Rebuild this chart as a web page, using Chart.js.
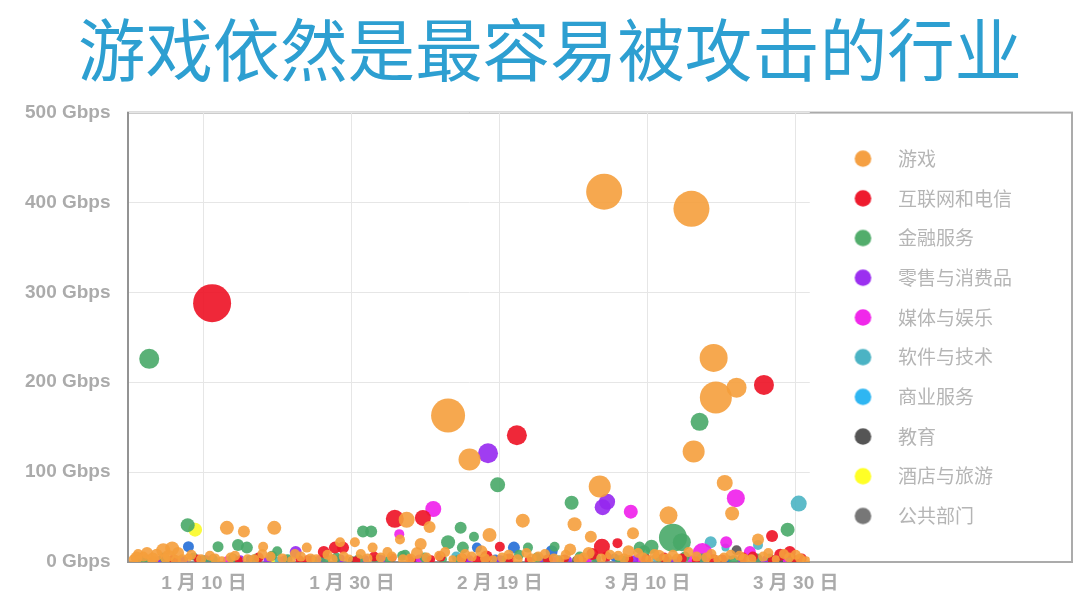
<!DOCTYPE html>
<html>
<head>
<meta charset="utf-8">
<script src="https://cdn.jsdelivr.net/npm/chart.js@4/dist/chart.umd.min.js"></script>
<style>
  html, body { margin: 0; padding: 0; background: #fff; }
  #wrap { width: 1080px; height: 606px; }
</style>
</head>
<body>
<div id="wrap"><canvas id="attackChart"></canvas></div>
<script>
const chartTitle = '游戏依然是最容易被攻击的行业';

const industries = ['游戏', '互联网和电信', '金融服务', '零售与消费品', '媒体与娱乐',
                    '软件与技术', '商业服务', '教育', '酒店与旅游', '公共部门'];
const bubbleColors = ['rgba(245,158,60,0.9)', 'rgba(238,22,40,0.92)', 'rgba(72,168,104,0.9)',
                      'rgba(150,40,240,0.9)', 'rgba(240,30,235,0.9)', 'rgba(75,180,195,0.9)',
                      'rgba(35,110,215,0.9)', 'rgba(85,85,85,0.9)', 'rgba(250,250,40,0.9)',
                      'rgba(120,120,120,0.9)'];
const legendColors = ['#f5a043', '#ee1b2e', '#52ad6c', '#9b30f0', '#f028ea',
                      '#4bb3c4', '#2fb6f2', '#555555', '#ffff26', '#777777'];

// x ticks: day of year (2020)
const tickDays = [10, 30, 50, 70, 90];
const tickLabels = ['1 月 10 日', '1 月 30 日', '2 月 19 日', '3 月 10 日', '3 月 30 日'];
const yTicks = [0, 100, 200, 300, 400, 500];

// [day, Gbps, bubble radius]
const gaming = [
  [64.1,412,18],[75.9,393,18],[43.0,163,17],[45.9,114,11],[78.9,227,14],[79.2,183,16],
  [82.0,194,10],[76.2,123,11],[63.5,84,11],[80.4,88,8],[81.4,54,7],[72.8,52,9],
  [60.1,42,7],[53.1,46,7],[68.0,32,6],[62.3,28,6],[48.6,30,7],[37.4,47,8],
  [40.5,39,6],[36.5,25,5],[39.3,20,6],[13.1,38,7],[15.4,34,6],[19.5,38,7],
  [18.0,17,5],[1.1,9,5],[4.5,13,7],[5.7,15,7],[6.5,10,6],[28.4,22,5],
  [30.4,22,5],[23.9,16,5],[32.8,16,5],[84.9,25,6],
  [0.5,3,5],[1.8,6,5],[2.9,2,4],[3.6,8,6],[4.8,4,5],[6.2,2,5],[7.9,5,4],[9.6,3,5],
  [10.8,7,5],[12.4,2,4],[13.6,5,5],[16.8,3,5],[17.9,9,5],[20.6,4,5],[21.8,2,4],
  [23.1,6,5],[25.2,3,5],[26.7,8,5],[29.6,4,4],[31.2,9,5],[33.9,5,5],[34.8,11,5],
  [37.9,4,5],[41.8,7,5],[43.6,3,4],[46.2,6,5],[47.5,12,6],[49.1,3,4],[51.2,8,5],
  [54.3,4,5],[56.1,9,5],[58.2,3,4],[59.5,14,6],[61.3,5,5],[64.9,8,5],[66.8,4,5],
  [68.7,10,5],[70.2,3,4],[71.5,7,6],[74.0,4,5],[75.5,11,5],[77.9,5,5],[79.4,3,4],
  [81.2,8,5],[83.0,4,5],[85.6,6,5],[87.3,3,4],[88.4,9,5],[90.6,4,5],[91.4,2,4],
  [0.9,5,6],[2.3,10,6],[3.1,4,6],[5.2,7,6],[7.1,3,5],[8.3,8,5],[11.5,4,5],[14.2,7,5],
  [15.9,3,5],[19.0,6,5],[22.3,9,5],[24.4,4,5],[27.4,3,5],[28.9,6,5],[32.1,4,5],
  [35.4,6,5],[36.9,3,5],[38.8,10,6],[40.1,5,5],[42.6,11,5],[44.8,4,5],[45.3,9,5],
  [48.0,4,5],[50.3,5,5],[52.4,3,5],[53.6,10,5],[55.2,6,5],[57.3,4,5],[58.9,8,5],
  [60.6,3,5],[62.0,10,6],[63.7,4,5],[66.0,7,5],[67.4,12,6],[69.4,5,5],[70.9,9,5],
  [72.6,4,5],[73.4,8,5],[76.6,6,5],[78.6,9,5],[80.3,5,5],[82.4,7,5],[84.0,3,5],
  [86.3,10,5],[89.1,5,5],[90.0,8,5]
];
const telecom = [
  [11.1,288,19],[52.3,141,10],[85.7,197,10],[35.8,48,9],[39.6,49,8],[27.7,16,6],
  [28.8,16,6],[63.8,17,8],[65.9,21,5],[50.0,17,5],[86.8,29,6],[89.2,11,6],
  [3.2,2,4],[9.1,4,4],[14.7,2,4],[22.9,3,4],[26.2,11,6],[30.6,2,4],[35.5,5,4],
  [40.7,3,4],[44.9,4,5],[48.2,6,6],[53.9,2,4],[58.8,4,4],[62.5,9,6],[67.5,3,4],
  [72.2,5,5],[76.5,2,4],[80.1,4,4],[84.2,6,5],[87.9,8,6],[89.9,3,4],
  [5.9,3,5],[17.4,5,5],[24.0,2,5],[33.0,6,5],[38.0,3,5],[42.0,6,5],[47.0,2,5],
  [51.3,4,5],[56.5,3,5],[61.0,2,5],[64.4,6,5],[69.8,3,5],[74.6,4,5],[78.9,3,5],
  [82.9,5,5],[86.9,2,5],[90.8,4,5]
];
const finance = [
  [2.6,226,10],[77.0,156,9],[49.7,86,7.5],[59.7,66,7],[88.9,36,7],[73.4,27,14],
  [74.6,22,9],[7.8,41,7],[31.5,34,6],[32.6,34,6],[44.7,38,6],[43.0,22,7],
  [45.0,16,6],[46.5,28,5],[11.9,17,5.5],[14.6,19,6],[15.8,16,6],[19.9,12,5],
  [53.8,16,5],[57.4,17,5],[68.9,16,6],[70.5,17,7],[37.2,8,5],
  [2.1,4,4],[5.5,2,4],[8.6,6,4],[11.2,3,5],[17.1,4,5],[19.2,7,5],[24.8,2,4],
  [27.9,5,5],[33.2,3,4],[36.8,7,5],[42.3,3,4],[47.9,4,5],[52.6,8,5],[56.3,3,4],
  [60.8,6,5],[66.1,3,4],[69.5,12,6],[75.0,6,5],[79.9,3,4],[86.5,5,4],
  [1.4,3,5],[4.6,5,5],[9.9,2,5],[13.9,4,5],[21.3,3,5],[26.4,4,5],[30.9,3,5],
  [35.1,2,5],[39.8,5,5],[44.3,2,5],[50.9,3,5],[55.0,5,5],[58.6,2,5],[63.0,4,5],
  [67.0,2,5],[71.8,3,5],[77.3,4,5],[81.6,2,5],[84.8,4,5],[89.6,2,5]
];
const retail = [
  [48.4,121,10],[64.5,67,8],[63.9,61,8],[22.4,11,6],
  [4.1,2,4],[10.3,3,4],[18.6,2,4],[28.5,4,4],[34.1,3,4],[45.6,2,4],[55.5,4,4],
  [63.1,3,4],[73.6,2,4],[82.6,3,4],[89.2,2,4],
  [7.3,2,4],[14.9,3,4],[25.9,2,4],[31.8,3,4],[40.4,2,4],[50.1,3,4],[59.2,2,4],
  [68.2,3,4],[77.0,2,4],[86.0,3,4]
];
const media = [
  [41.0,59,8],[81.9,71,9],[67.7,56,7],[77.4,10,10],[80.6,22,6],[83.8,11,6],[36.4,31,5],
  [13.1,2,4],[25.6,3,4],[39.1,4,4],[50.5,2,4],[61.9,3,4],[69.0,5,5],[85.0,3,4],
  [6.8,2,4],[20.9,3,4],[33.5,2,4],[45.9,3,4],[57.1,2,4],[75.9,3,4],[88.8,2,4]
];
const software = [
  [90.4,65,8],[78.5,22,6],[84.9,19,5],[80.5,16,4],
  [20.1,2,4],[44.1,6,5],[57.9,3,4],[71.1,5,4]
];
const business = [
  [7.9,17,5.5],[46.9,16,5],[51.9,16,6],[57.0,12,6],
  [16.2,3,4],[33.7,4,4],[65.5,5,4],[80.8,3,4],
  [3.9,2,4],[24.6,3,4],[38.3,2,4],[49.4,4,4],[61.5,3,4],[72.3,2,4],[87.0,2,4]
];
const education = [[82.0,13,5],[30.0,2,4],[60.3,2,4],[88.0,2,4]];
const hospitality = [[8.8,36,7],[19.4,3,4],[55.0,2,4],[78.1,3,4]];
const publicSector = [[38.6,2,4],[72.8,2,4]];

const seriesData = [gaming, telecom, finance, retail, media, software,
                    business, education, hospitality, publicSector];

const toPoints = rows => rows.map(([x, y, r]) => ({ x, y, r }));

// legend swatch: circle sitting inside a wider image so the text gap matches
function legendDot(color) {
  const c = document.createElement('canvas');
  c.width = 58;
  c.height = 19;
  const g = c.getContext('2d');
  g.fillStyle = color;
  g.beginPath();
  g.arc(32.5, 9.5, 8.3, 0, Math.PI * 2);
  g.fill();
  return c;
}
const legendDots = legendColors.map(legendDot);

// outer frame around plot + legend
const framePlugin = {
  id: 'frame',
  beforeDraw(chart) {
    const { ctx, chartArea } = chart;
    ctx.save();
    ctx.strokeStyle = '#ababab';
    ctx.lineWidth = 2;
    ctx.strokeRect(chartArea.left, chartArea.top, chart.width - 8 - chartArea.left,
                   chartArea.bottom - chartArea.top);
    ctx.restore();
  }
};

const axisFont = { family: '"Liberation Sans", Arial, "Noto Sans CJK SC"', size: 19, weight: 'bold' };

new Chart(document.getElementById('attackChart'), {
  type: 'bubble',
  data: {
    datasets: industries.map((name, i) => ({
      label: name,
      data: toPoints(seriesData[i]),
      backgroundColor: bubbleColors[i],
      borderWidth: 0,
      clip: 0
    }))
  },
  options: {
    responsive: true,
    maintainAspectRatio: false,
    animation: false,
    // uneven side padding keeps the full-width title centred like the original
    layout: { padding: { left: 78, right: 58, top: 0, bottom: 0 } },
    scales: {
      x: {
        type: 'linear',
        min: -0.27,
        max: 91.9,
        afterFit: scale => { scale.height = 44; },
        afterBuildTicks: scale => { scale.ticks = tickDays.map(v => ({ value: v })); },
        ticks: {
          padding: 10,
          color: '#ababab',
          font: axisFont,
          maxRotation: 0,
          callback: v => tickLabels[tickDays.indexOf(v)]
        },
        grid: { color: '#e6e6e6', drawTicks: false },
        border: { color: '#939393', width: 2 }
      },
      y: {
        min: 0,
        max: 500,
        afterFit: scale => { scale.width = 50; },
        afterBuildTicks: scale => { scale.ticks = yTicks.map(v => ({ value: v })); },
        ticks: {
          // mirrored so the labels may reach into the left padding without being clipped
          mirror: true,
          crossAlign: 'far',
          padding: -103,
          color: '#ababab',
          font: axisFont,
          callback: v => v + ' Gbps'
        },
        grid: { color: '#e6e6e6', drawTicks: false },
        border: { color: '#939393', width: 2 }
      }
    },
    plugins: {
      title: {
        display: true,
        text: chartTitle,
        color: '#2d9fd1',
        font: { family: '"Noto Sans CJK SC"', size: 68, weight: 'normal' },
        padding: { top: 9, bottom: 22 }
      },
      legend: {
        position: 'right',
        fullSize: false,
        labels: {
          usePointStyle: true,
          pointStyleWidth: 58,
          padding: 20.7,
          color: '#b5b5b5',
          font: { family: '"Noto Sans CJK SC"', size: 19 },
          generateLabels: chart =>
            Chart.defaults.plugins.legend.labels.generateLabels(chart).map((item, i) => ({
              ...item,
              pointStyle: legendDots[i]
            }))
        }
      },
      tooltip: { enabled: false }
    }
  },
  plugins: [framePlugin]
});
</script>
</body>
</html>
